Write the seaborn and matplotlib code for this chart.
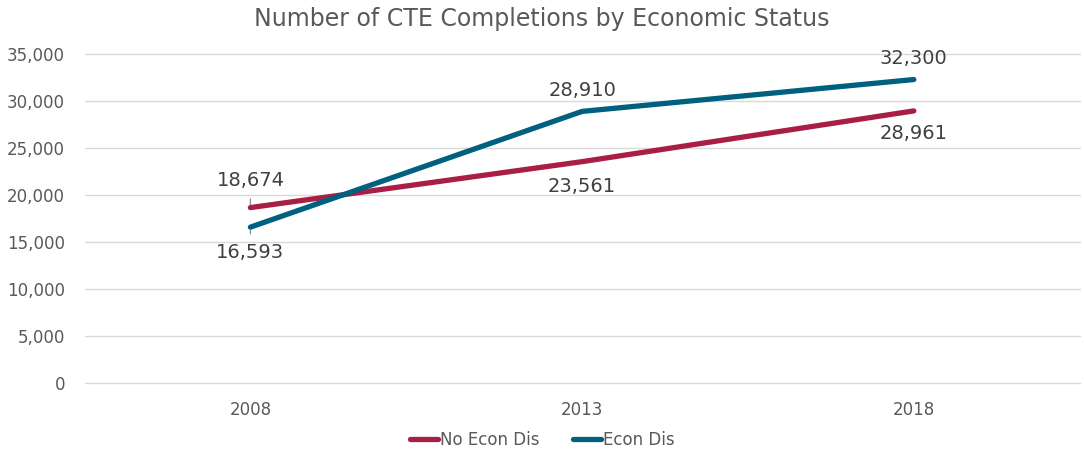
import pandas as pd
import matplotlib
matplotlib.use("Agg")
import matplotlib.pyplot as plt
import seaborn as sns

# --- data ---
years = ["2008", "2013", "2018"]
no_econ_dis = [18674, 23561, 28961]
econ_dis = [16593, 28910, 32300]
series_names = ["No Econ Dis", "Econ Dis"]

df = pd.DataFrame({
    "Year": years * 2,
    "Completions": no_econ_dis + econ_dis,
    "Group": [series_names[0]] * 3 + [series_names[1]] * 3,
})

sns.set_style("white")
plt.rcParams["font.family"] = ["DejaVu Sans"]
text_col = "#595959"
palette = {"No Econ Dis": "#A91E45", "Econ Dis": "#00607F"}

fig = plt.figure(figsize=(10.84, 4.55), dpi=100)
ax = fig.add_axes([0.078, 0.158, 0.918, 0.723])

sns.lineplot(data=df, x="Year", y="Completions", hue="Group", palette=palette,
             linewidth=3.8, ax=ax, legend=True, solid_capstyle="round")

ax.set_xlim(-0.5, 2.5)
ax.set_ylim(0, 35000)
ax.set_yticks(range(0, 35001, 5000))
ax.yaxis.set_major_formatter(matplotlib.ticker.FuncFormatter(lambda v, p: f"{int(v):,}"))
ax.grid(axis="y", color="#d9d9d9", linewidth=1)
for gl in ax.get_ygridlines():
    gl.set_clip_on(False)
ax.set_axisbelow(True)
for s in ax.spines.values():
    s.set_visible(False)
ax.tick_params(axis="both", length=0, labelsize=12, labelcolor=text_col)
ax.tick_params(axis="y", pad=14)
ax.tick_params(axis="x", pad=13)
ax.set_xlabel("")
ax.set_ylabel("")

# --- data labels ---
offsets_no = [27, -25, -23]
offsets_ed = [-25, 21, 21]
lead = dict(arrowstyle="-", color="#8c8c8c", lw=0.9, shrinkA=4, shrinkB=2)
for i, (v, off) in enumerate(zip(no_econ_dis, offsets_no)):
    kw = {"arrowprops": lead} if i == 0 else {}
    ax.annotate(f"{v:,}", (i, v), xytext=(0, off), textcoords="offset pixels",
                ha="center", va="center", fontsize=14, color="#404040", **kw)
for i, (v, off) in enumerate(zip(econ_dis, offsets_ed)):
    kw = {"arrowprops": lead} if i == 0 else {}
    ax.annotate(f"{v:,}", (i, v), xytext=(0, off), textcoords="offset pixels",
                ha="center", va="center", fontsize=14, color="#404040", **kw)

fig.suptitle("Number of CTE Completions by Economic Status", y=0.985, fontsize=17, color=text_col)

handles, labels = ax.get_legend_handles_labels()
ax.legend_.remove()
fig.legend(handles, labels, loc="center", bbox_to_anchor=(0.5, 0.033), ncol=2, frameon=False,
           fontsize=12, labelcolor=text_col, handlelength=1.7, handletextpad=0.1, columnspacing=2.0)

fig.savefig("out.png", dpi=100)
